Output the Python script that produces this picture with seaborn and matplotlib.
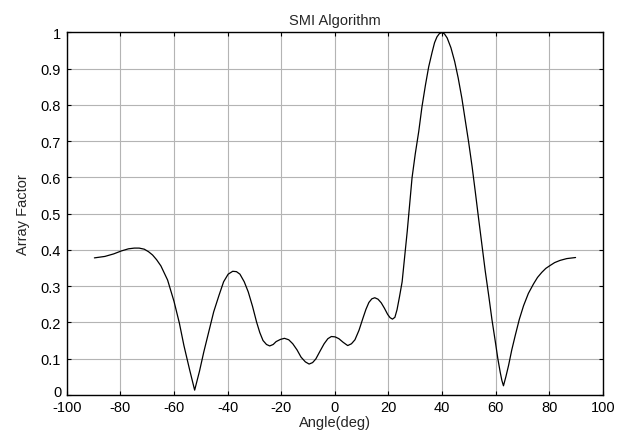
import matplotlib
matplotlib.use("Agg")
import matplotlib.pyplot as plt
import matplotlib.transforms as mtransforms
import seaborn as sns
import pandas as pd

angle = [-89.7, -85.8, -82.5, -79.7, -77.0, -74.8, -73.0, -71.1, -69.5, -68.0,
         -66.5, -64.9, -62.4, -60.0, -58.0, -56.3, -54.2, -52.3, -50.5, -48.9,
         -47.0, -45.2, -43.2, -41.5, -39.8, -38.1, -36.7, -35.4, -33.8, -32.3,
         -30.7, -29.2, -28.0, -26.8, -25.5, -24.3, -23.0, -21.9, -20.3, -18.8,
         -17.2, -15.7, -14.1, -12.6, -11.0, -9.6, -8.3, -7.1, -5.5, -4.0,
         -2.6, -1.3, 0.1, 1.5, 3.1, 4.8, 6.2, 7.5, 9.0, 10.5,
         11.6, 12.7, 13.8, 14.9, 16.1, 17.3, 18.5, 19.7, 20.6, 21.5,
         22.4, 23.2, 24.1, 25.1, 26.0, 27.0, 28.8, 30.0, 31.3, 32.5,
         33.8, 35.0, 36.3, 37.2, 38.1, 39.0, 40.0, 40.9, 41.9, 43.3,
         44.7, 46.0, 47.4, 48.6, 49.9, 51.2, 52.4, 53.6, 54.9, 56.1,
         57.4, 58.6, 59.9, 60.8, 61.7, 62.3, 62.9, 63.8, 64.8, 66.0,
         67.3, 68.8, 70.4, 72.2, 74.1, 75.6, 77.2, 78.7, 80.3, 82.0,
         84.0, 86.5, 89.8]
array_factor = [0.378, 0.382, 0.389, 0.397, 0.403, 0.405, 0.405, 0.402, 0.395, 0.386,
                0.373, 0.356, 0.317, 0.258, 0.198, 0.136, 0.070, 0.013, 0.065, 0.118,
                0.175, 0.229, 0.275, 0.312, 0.333, 0.341, 0.340, 0.333, 0.312, 0.284,
                0.244, 0.201, 0.172, 0.150, 0.139, 0.135, 0.139, 0.147, 0.153, 0.156,
                0.152, 0.141, 0.124, 0.104, 0.091, 0.085, 0.089, 0.099, 0.121, 0.141,
                0.155, 0.161, 0.160, 0.155, 0.145, 0.136, 0.141, 0.152, 0.178, 0.212,
                0.236, 0.255, 0.265, 0.268, 0.264, 0.254, 0.239, 0.222, 0.213, 0.209,
                0.214, 0.235, 0.270, 0.312, 0.378, 0.451, 0.599, 0.665, 0.727, 0.795,
                0.855, 0.905, 0.946, 0.972, 0.988, 0.997, 1.0, 0.996, 0.985, 0.958,
                0.920, 0.875, 0.818, 0.760, 0.698, 0.630, 0.560, 0.488, 0.412, 0.342,
                0.274, 0.208, 0.145, 0.100, 0.062, 0.040, 0.025, 0.050, 0.081, 0.124,
                0.164, 0.208, 0.246, 0.280, 0.306, 0.324, 0.338, 0.349, 0.357, 0.365,
                0.371, 0.376, 0.379]
x_ticks = [-100, -80, -60, -40, -20, 0, 20, 40, 60, 80, 100]
y_ticks = [0, 0.1, 0.2, 0.3, 0.4, 0.5, 0.6, 0.7, 0.8, 0.9, 1]
y_tick_labels = ["0", "0.1", "0.2", "0.3", "0.4", "0.5", "0.6", "0.7", "0.8", "0.9", "1"]

sns.set_style("white")
plt.rcParams['font.family'] = ['Liberation Sans', 'DejaVu Sans']

df = pd.DataFrame({"Angle": angle, "AF": array_factor})

fig = plt.figure(figsize=(6.3, 4.35), dpi=100)
ax = fig.add_axes([0.106, 0.09, 0.851, 0.833])
sns.lineplot(data=df, x="Angle", y="AF", ax=ax, color="black", linewidth=0.9,
             sort=False, estimator=None)

ax.set_xlim(-100, 100)
ax.set_ylim(0, 1)
ax.set_xticks(x_ticks)
ax.set_xticklabels([str(t) for t in x_ticks])
ax.set_yticks(y_ticks)
ax.set_yticklabels(y_tick_labels)
ax.grid(True, color="#b4b4b4", linewidth=0.8)
ax.set_axisbelow(True)
for s in ax.spines.values():
    s.set_visible(True)
    s.set_color("black")
    s.set_linewidth(1.0)
ax.tick_params(direction="in", length=3, width=0.8, top=True, right=True,
               bottom=True, left=True, labelsize=10.5, colors="black")
ax.tick_params(axis="x", pad=3.5)
ax.tick_params(axis="y", pad=4)
ax.set_xlabel("Angle(deg)", fontsize=10.5, labelpad=1)
ax.set_ylabel("Array Factor", fontsize=10.5, labelpad=8)
ax.set_title("SMI Algorithm", fontsize=10.5, pad=6)

# nudge the "0" y tick label up slightly so it clears "-100"
lab0 = ax.get_yticklabels()[0]
lab0.set_transform(lab0.get_transform() +
                   mtransforms.ScaledTranslation(0, 3 / 72, fig.dpi_scale_trans))

fig.savefig("out.png", dpi=100, facecolor="white")
